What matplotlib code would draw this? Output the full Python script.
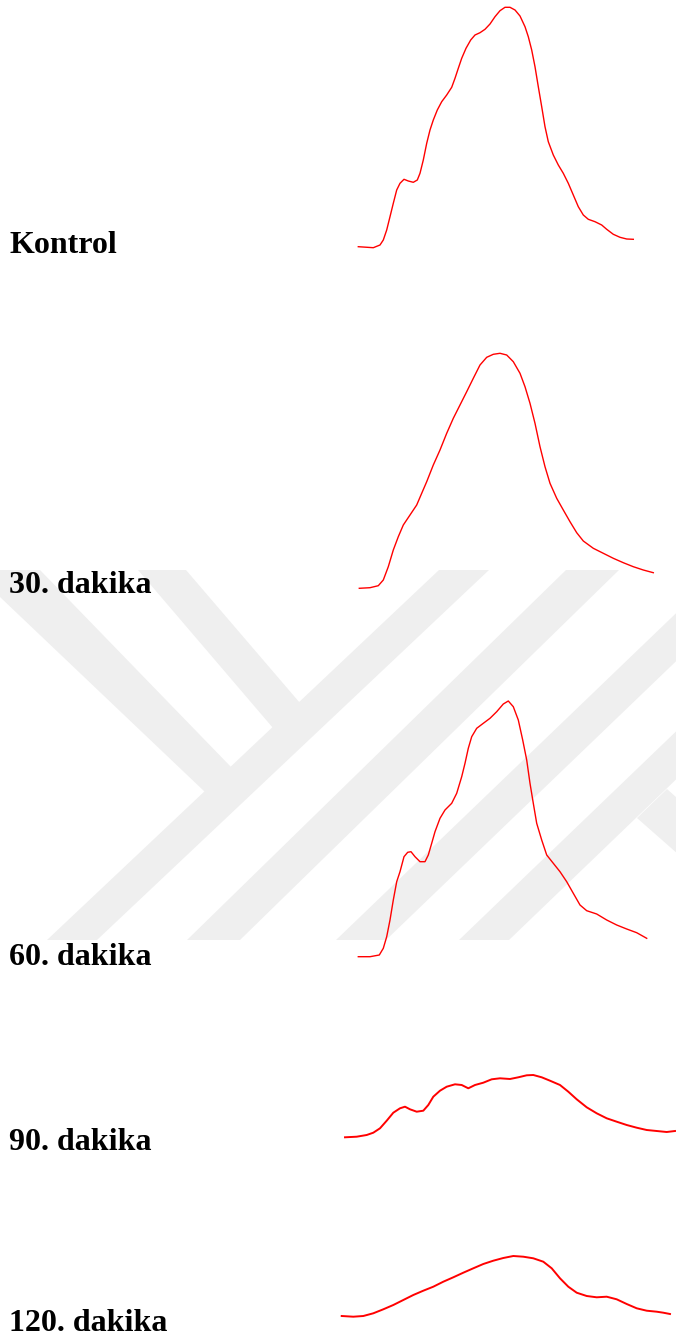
import matplotlib
matplotlib.use("Agg")
import matplotlib.pyplot as plt
from matplotlib.patches import Polygon, Rectangle

# ---- densitometric scan profiles (distance along lane, intensity) ----
labels = ["Kontrol", "30. dakika", "60. dakika", "90. dakika", "120. dakika"]

kontrol_dist = [28.3, 43.3, 50.0, 53.3, 56.7, 60.0, 63.3, 66.7, 70.0, 74.0,
                78.3, 83.3, 87.3, 90.0, 93.3, 96.7, 100.0, 103.3, 107.3, 111.7,
                116.7, 121.7, 125.0, 128.3, 131.7, 136.0, 140.7, 145.0, 150.0, 155.0,
                160.0, 165.0, 170.0, 175.0, 180.0, 185.0, 190.0, 195.0, 198.3, 201.7,
                205.0, 208.3, 211.7, 215.0, 218.3, 223.3, 228.3, 233.3, 238.3, 243.3,
                248.3, 253.3, 258.3, 265.0, 271.7, 276.7, 283.3, 290.0, 296.7, 303.3]
kontrol_int = [13.3, 12.3, 15.0, 20.0, 30.0, 43.3, 56.7, 70.0, 76.7, 80.7,
               79.0, 77.7, 80.0, 86.7, 100.0, 116.7, 130.0, 140.0, 150.0, 158.3,
               165.0, 172.7, 181.7, 191.7, 201.7, 211.7, 220.0, 225.0, 227.3, 230.7,
               236.0, 243.3, 249.3, 252.7, 252.7, 250.0, 244.0, 233.3, 223.3, 210.0,
               193.3, 173.3, 153.3, 133.3, 118.3, 105.0, 95.0, 86.7, 76.7, 65.0,
               53.3, 45.0, 40.7, 38.3, 35.0, 30.7, 25.7, 22.7, 21.0, 20.7]

d30_dist = [29.3, 40.0, 48.3, 53.3, 58.3, 63.3, 68.3, 73.3, 80.0, 86.7,
            91.7, 96.7, 103.3, 110.0, 116.7, 123.3, 130.0, 136.7, 143.3, 150.0,
            156.7, 163.3, 170.0, 176.7, 183.3, 190.0, 195.0, 200.0, 205.0, 210.0,
            215.0, 220.0, 226.7, 233.3, 240.0, 246.7, 253.3, 263.3, 273.3, 283.3,
            293.3, 303.3, 313.3, 323.3]
d30_int = [11.7, 12.3, 14.3, 20.0, 33.3, 50.0, 63.3, 75.0, 85.0, 95.0,
           106.7, 118.3, 135.0, 150.0, 166.7, 181.7, 195.0, 208.3, 221.7, 235.0,
           242.7, 245.7, 246.7, 245.0, 238.3, 226.7, 213.3, 196.7, 176.7, 153.3,
           133.3, 116.7, 101.7, 90.0, 78.3, 67.3, 59.0, 51.7, 46.7, 41.7,
           37.3, 33.3, 30.0, 27.3]

d60_dist = [28.3, 40.0, 49.3, 53.3, 56.7, 60.0, 63.3, 66.7, 70.0, 74.0,
            77.7, 81.0, 85.0, 90.0, 95.0, 98.3, 101.7, 105.0, 110.0, 115.0,
            121.7, 126.7, 131.7, 135.0, 138.3, 141.7, 146.7, 153.3, 160.0, 166.7,
            173.3, 178.3, 183.3, 188.3, 192.7, 196.7, 200.0, 203.3, 206.7, 211.7,
            216.7, 223.3, 230.0, 236.7, 243.3, 250.0, 256.7, 266.7, 276.7, 286.7,
            296.7, 306.7, 316.7]
d60_int = [13.3, 13.3, 15.0, 21.7, 33.3, 50.0, 70.0, 88.3, 98.3, 113.3,
           117.7, 118.3, 113.3, 108.3, 108.3, 115.0, 126.7, 138.3, 151.7, 160.0,
           166.7, 176.7, 193.3, 206.7, 221.7, 233.3, 241.7, 246.7, 251.7, 258.3,
           266.0, 269.0, 263.3, 250.0, 230.0, 210.0, 186.7, 166.7, 146.7, 130.0,
           115.0, 106.7, 98.3, 88.3, 76.7, 65.0, 59.3, 56.0, 50.0, 45.0,
           41.0, 37.3, 31.7]

d90_dist = [15.0, 26.7, 36.7, 43.3, 50.0, 56.7, 63.3, 70.0, 75.0, 80.0,
            86.7, 93.3, 98.3, 103.3, 110.0, 116.7, 125.0, 131.7, 138.3, 145.0,
            153.3, 161.7, 170.0, 180.0, 188.3, 196.7, 203.3, 211.7, 220.0, 230.0,
            238.3, 246.7, 256.7, 266.7, 276.7, 286.7, 296.7, 306.7, 316.7, 326.7,
            336.7, 345.0]
d90_int = [12.7, 13.3, 15.0, 17.3, 21.7, 29.3, 37.3, 41.7, 43.3, 40.7,
           38.3, 39.3, 45.0, 53.3, 59.3, 63.3, 65.7, 65.0, 61.7, 65.0,
           67.3, 70.7, 71.7, 71.0, 72.7, 74.7, 75.0, 72.7, 69.3, 65.0,
           58.3, 50.7, 42.7, 36.7, 31.7, 28.3, 25.0, 22.3, 20.0, 19.0,
           18.0, 19.0]

d120_dist = [11.7, 23.3, 33.3, 43.3, 53.3, 63.3, 73.3, 83.3, 93.3, 103.3,
             113.3, 123.3, 133.3, 143.3, 153.3, 163.3, 173.3, 183.3, 193.3, 203.3,
             213.3, 221.7, 230.0, 238.3, 246.7, 256.7, 266.7, 276.7, 286.7, 296.7,
             306.7, 316.7, 326.7, 333.3, 340.0]
d120_int = [14.0, 13.3, 14.0, 16.7, 20.7, 25.0, 30.0, 35.0, 39.3, 43.3,
            48.3, 52.7, 57.3, 61.7, 66.0, 69.3, 72.0, 74.0, 73.3, 71.7,
            68.3, 61.7, 51.7, 43.3, 37.3, 34.0, 32.7, 33.3, 30.7, 26.0,
            21.7, 19.3, 18.3, 17.3, 16.0]

profiles = [(kontrol_dist, kontrol_int), (d30_dist, d30_int), (d60_dist, d60_int),
            (d90_dist, d90_int), (d120_dist, d120_int)]

# ---- layout (pixels on a 676 x 1340 canvas) ----
W, H = 676, 1340
panel_left, panel_width = 330, 346
panel_bottom = [260, 600, 970, 1150, 1330]
panel_height = [260, 260, 280, 90, 90]
line_widths = [1.0, 1.0, 1.0, 1.4, 1.4]
label_baseline = [253, 593, 965, 1150, 1331]

fig = plt.figure(figsize=(W / 100, H / 100), dpi=100)
fig.patch.set_facecolor("white")

# background logo stripes
bg = fig.add_axes([0, 0, 1, 1], zorder=0)
bg.set_xlim(0, W)
bg.set_ylim(H, 0)
bg.axis("off")
stripes = [
    [(0, 570), (40, 570), (232, 768), (205, 792), (0, 597)],
    [(138, 570), (186, 570), (300, 703), (273, 728)],
    [(47, 940), (97, 940), (489, 570), (439, 570)],
    [(187, 940), (240, 940), (619, 570), (566, 570)],
    [(336, 940), (386, 940), (771, 570), (721, 570)],
    [(459, 940), (509, 940), (894, 570), (844, 570)],
    [(637, 818), (667, 789), (800, 908), (770, 935)],
]
clip = Rectangle((0, 570), W, 370, transform=bg.transData, visible=False)
bg.add_patch(clip)
for poly in stripes:
    p = Polygon(poly, closed=True, facecolor="#efefef", edgecolor="none")
    bg.add_patch(p)
    p.set_clip_path(clip)

# profile curves
for (dist, inten), bot, ph, lw in zip(profiles, panel_bottom, panel_height, line_widths):
    ax = fig.add_axes([panel_left / W, 1 - bot / H, panel_width / W, ph / H], zorder=2)
    ax.patch.set_alpha(0)
    ax.plot(dist, inten, color="#ff0000", lw=lw, solid_joinstyle="round")
    ax.set_xlim(0, panel_width)
    ax.set_ylim(0, ph)
    ax.axis("off")

# row labels
for text, base in zip(labels, label_baseline):
    fig.text(9 / W, 1 - base / H, text, family="Liberation Serif", weight="bold",
             fontsize=23, color="black", ha="left", va="baseline", zorder=3)

fig.savefig("out.png", dpi=100, facecolor="white")
